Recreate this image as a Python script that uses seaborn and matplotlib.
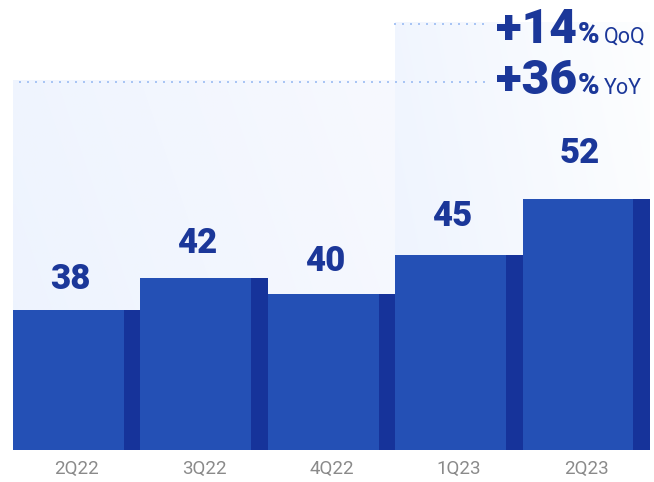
import matplotlib
matplotlib.use("Agg")
import matplotlib.pyplot as plt
import numpy as np
import pandas as pd
import seaborn as sns

# ---- data ----
quarters = ["2Q22", "3Q22", "4Q22", "1Q23", "2Q23"]
values = [38, 42, 40, 45, 52]
qoq_text = "+14"
yoy_text = "+36"

# ---- style ----
sns.set_theme(style="white")
plt.rcParams["font.family"] = ["Roboto", "DejaVu Sans"]

MAIN = "#2450B5"
DARK = "#16339A"
NAVY = "#1B3799"
GRAY = "#8A8A8A"
DOT = "#A9C5F4"

W, H = 654, 482
fig = plt.figure(figsize=(W / 100, H / 100), dpi=100)
fig.patch.set_facecolor("white")

# axes placed in pixel terms
left_px, right_px, base_px, top_px = 13, 650, 450, 0
ax = fig.add_axes([left_px / W, (H - base_px) / H, (right_px - left_px) / W, (base_px - top_px) / H])
ax.set_facecolor("none")

y_lo = 20.35
y_hi = y_lo + (base_px - top_px) / 7.93

df = pd.DataFrame({"quarter": quarters, "value": values})

# background gradient panels
def panel(x0, x1, frac_top, c_left, c_right):
    ytop = y_lo + frac_top * (y_hi - y_lo)
    cl = np.array(matplotlib.colors.to_rgb(c_left))
    cr = np.array(matplotlib.colors.to_rgb(c_right))
    n = 64
    t = np.linspace(0, 1, n)
    img = np.zeros((n, n, 3))
    for i in range(n):
        for j in range(n):
            s = 0.75 * t[j] + 0.25 * (1 - t[i])
            img[i, j] = cl * (1 - s) + cr * s
    ax.imshow(img, extent=[x0, x1, y_lo, ytop], origin="upper", aspect="auto",
              zorder=0, interpolation="bilinear")

panel(-0.5, 2.5, 0.822, "#EDF3FE", "#F7F9FE")
panel(2.5, 4.5, 0.951, "#EDF3FE", "#FDFEFF")

# dark side strips (full slot) and main faces
sns.barplot(data=df, x="quarter", y="value", color=DARK, width=1.0, saturation=1,
            linewidth=0, ax=ax, zorder=2)
n_dark = len(ax.patches)
face_w = 0.869
shift = (1 - face_w) / 2
sns.barplot(data=df, x="quarter", y="value", color=MAIN, width=face_w, saturation=1,
            linewidth=0, ax=ax, zorder=3)
for p in ax.patches[n_dark:]:
    p.set_x(p.get_x() - shift)

ax.set_xlim(-0.5, 4.5)
ax.set_ylim(y_lo, y_hi)
ax.set_xlabel("")
ax.set_ylabel("")
ax.set_yticks([])
ax.tick_params(axis="x", length=0, pad=7, labelsize=13.5, labelcolor=GRAY)
for s in ax.spines.values():
    s.set_visible(False)

# value labels on a secondary label scale, centred over the bar face
ax2 = ax.twinx()
ax2.set_ylim(18.57, 68.76)
ax2.set_axis_off()
for i, v in enumerate(values):
    ax2.text(i - shift * 0.8, v, str(v), ha="center", va="center_baseline", fontsize=25,
             fontweight="heavy", color=NAVY, zorder=5)

# dotted guide lines
ax.plot([0.0094, 0.741], [0.817, 0.817], transform=ax.transAxes, color=DOT,
        lw=1.44, ls=(0, (1, 3)), zorder=1, solid_capstyle="butt")
ax.plot([0.598, 0.749], [0.946, 0.946], transform=ax.transAxes, color=DOT,
        lw=1.44, ls=(0, (1, 3)), zorder=1, solid_capstyle="butt")

# growth callouts
renderer = fig.canvas.get_renderer()

def callout(x_px, base_y_px, big, tag):
    t1 = fig.text(x_px / W, 1 - base_y_px / H, big, fontsize=34.5, fontweight="heavy",
                  color=NAVY, va="baseline", ha="left")
    bb = t1.get_window_extent(renderer)
    t2 = fig.text((bb.x1 + 1) / W, 1 - base_y_px / H, "%", fontsize=21, fontweight="heavy",
                  color=NAVY, va="baseline", ha="left")
    bb2 = t2.get_window_extent(renderer)
    fig.text((bb2.x1 + 4) / W, 1 - base_y_px / H, tag, fontsize=15.5,
             color=NAVY, va="baseline", ha="left")

callout(496, 43, qoq_text, "QoQ")
callout(496, 94, yoy_text, "YoY")

fig.savefig("out.png", dpi=100, facecolor="white")
